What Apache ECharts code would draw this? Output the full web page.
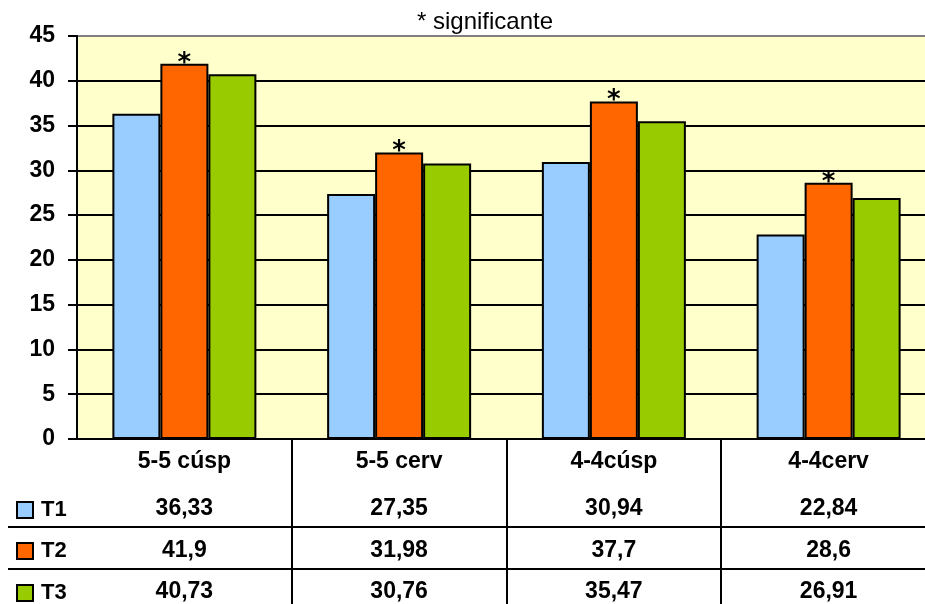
<!DOCTYPE html>
<html>
<head>
<meta charset="utf-8">
<script src="https://cdn.jsdelivr.net/npm/echarts/dist/echarts.min.js"></script>
<style>
  html, body { margin: 0; padding: 0; background: #ffffff; overflow: hidden; }
  /* the plot area runs slightly past the right edge of the window */
  #chart { width: 936px; height: 604px; }
</style>
</head>
<body>
<div id="chart"></div>
<script>
// Categories (teeth / region) and measured values per time point
const categories = ['5-5 cúsp', '5-5 cerv', '4-4cúsp', '4-4cerv'];
const seriesNames = ['T1', 'T2', 'T3'];
const t1Values = [36.33, 27.35, 30.94, 22.84];
const t2Values = [41.9, 31.98, 37.7, 28.6];
const t3Values = [40.73, 30.76, 35.47, 26.91];
const yMin = 0, yMax = 45, yStep = 5;
const titleText = '* significante';
const significanceMark = '*';

const seriesValues = [t1Values, t2Values, t3Values];
const colors = ['#99CCFF', '#FF6600', '#99CC00'];
const FONT = 'Liberation Sans, Arial, sans-serif';

// Decimal comma, as written in the data table
const fmt = v => String(v).replace('.', ',');

const chart = echarts.init(document.getElementById('chart'), null, { renderer: 'canvas' });

const gridLeft = 77, gridTop = 36, gridRight = 0, gridHeight = 403;
const axisY = gridTop + gridHeight;

// Horizontal grid line colours: black, with a grey top border
const splitColors = [];
for (let v = yMin; v <= yMax; v += yStep) splitColors.push(v === yMax ? '#808080' : '#000000');

// Table rows: label axis offsets and legend key positions
const rowOffsets = [58, 100, 141];
const legendTops = [499, 540, 582];

// One hidden-line category axis per table row, used to print the values
const tableAxes = seriesValues.map((vals, k) => ({
  type: 'category',
  data: categories,
  position: 'bottom',
  offset: rowOffsets[k],
  axisLine: { show: false },
  axisTick: { show: false },
  splitLine: { show: false },
  axisLabel: {
    margin: 0,
    interval: 0,
    color: '#000',
    fontFamily: FONT,
    fontWeight: 'bold',
    fontSize: 23,
    formatter: (value, idx) => fmt(vals[idx])
  }
}));

// One legend per row so each key sits on its own table line
const legends = seriesNames.map((name, k) => ({
  orient: 'vertical',
  left: 16,
  top: legendTops[k],
  padding: 0,
  itemWidth: 16,
  itemHeight: 16,
  icon: 'rect',
  data: [name],
  textStyle: { fontFamily: FONT, fontWeight: 'bold', fontSize: 22, color: '#000', padding: [0, 0, 0, 3] }
}));

const option = {
  animation: false,
  backgroundColor: '#ffffff',
  title: {
    text: titleText,
    left: 417,
    top: 10,
    padding: 0,
    textStyle: { fontFamily: FONT, fontWeight: 'normal', fontSize: 24, color: '#000' }
  },
  legend: legends,
  grid: {
    left: gridLeft,
    top: gridTop,
    right: gridRight,
    height: gridHeight,
    show: true,
    backgroundColor: '#FFFFCC',
    borderWidth: 0
  },
  xAxis: [{
    type: 'category',
    data: categories,
    position: 'bottom',
    axisLine: { show: true, lineStyle: { color: '#000', width: 2 } },
    axisTick: { show: false },
    axisLabel: {
      margin: 11,
      interval: 0,
      color: '#000',
      fontFamily: FONT,
      fontWeight: 'bold',
      fontSize: 23
    }
  }].concat(tableAxes),
  yAxis: {
    type: 'value',
    min: yMin,
    max: yMax,
    interval: yStep,
    axisLine: { show: true, lineStyle: { color: '#000', width: 2 } },
    axisTick: { show: true, length: 9, lineStyle: { color: '#000', width: 2 } },
    splitLine: { show: true, lineStyle: { color: splitColors, width: 2 } },
    axisLabel: {
      margin: 22,
      color: '#000',
      fontFamily: FONT,
      fontWeight: 'bold',
      fontSize: 23
    }
  },
  series: seriesNames.map((name, k) => ({
    name: name,
    type: 'bar',
    xAxisIndex: 0,
    data: seriesValues[k],
    barWidth: 48,
    barGap: '0%',
    itemStyle: { color: colors[k], borderColor: '#000', borderWidth: 2 },
    label: k === 1 ? {
      show: true,
      position: 'top',
      distance: -13,
      formatter: significanceMark,
      fontFamily: 'DejaVu Sans, sans-serif',
      fontWeight: 'bold',
      fontSize: 26,
      color: '#000'
    } : { show: false }
  }))
};

chart.setOption(option);

// Table rules: horizontal row separators and vertical category separators
const toX = i => {
  const p = chart.convertToPixel({ xAxisIndex: 0 }, i);
  return Array.isArray(p) ? p[0] : p;
};
const centers = categories.map((c, i) => toX(i));
const band = centers[1] - centers[0];
const rightEdge = chart.getWidth();
const rowLines = [527, 569];
const lineStyle = { stroke: '#000', lineWidth: 2 };
const graphics = [];
rowLines.forEach(y => graphics.push({
  type: 'line', silent: true,
  shape: { x1: 8, y1: y, x2: rightEdge, y2: y },
  style: lineStyle
}));
for (let i = 1; i < categories.length; i++) {
  const x = Math.round(centers[i] - band / 2);
  graphics.push({
    type: 'line', silent: true,
    shape: { x1: x, y1: axisY, x2: x, y2: 604 },
    style: lineStyle
  });
}
chart.setOption({ graphic: graphics });
</script>
</body>
</html>
